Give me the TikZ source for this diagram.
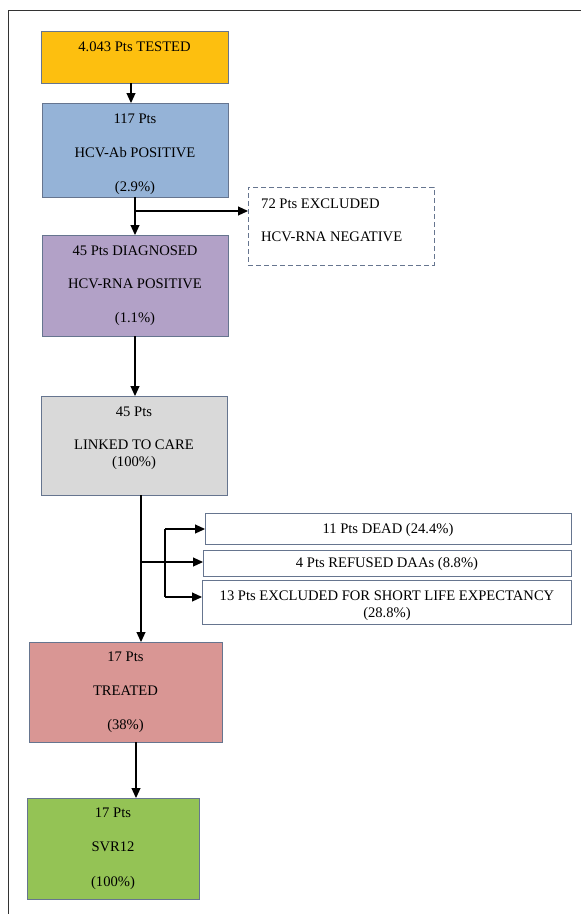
\documentclass[tikz,border=0pt]{standalone}
\usepackage{fontspec}
\setmainfont{Liberation Serif}
\usetikzlibrary{arrows.meta,fit}
\definecolor{cOrange}{HTML}{FDBF0F}
\definecolor{cBlue}{HTML}{95B3D7}
\definecolor{cPurple}{HTML}{B2A1C7}
\definecolor{cGray}{HTML}{D9D9D9}
\definecolor{cRed}{HTML}{D99694}
\definecolor{cGreen}{HTML}{94C355}
\definecolor{cEdge}{HTML}{66758F}
\definecolor{cFrame}{HTML}{333333}
\begin{document}
\begin{tikzpicture}[x=1pt,y=-1pt,
  box/.style={draw=cEdge, line width=0.9pt, rectangle, inner sep=0pt, outer sep=0pt},
  dbox/.style={box, dash pattern=on 5pt off 3pt},
  txt/.style={font=\fontsize{14.6}{17.5}\selectfont, align=center, inner sep=0pt, text=black},
  arr/.style={draw=black, line width=1.1pt, -{Triangle[length=10pt,width=9pt]}},
  ln/.style={draw=black, line width=1.1pt},
]
\useasboundingbox (0,0) rectangle (581,914);
\draw[cFrame, line width=1.5pt] (8.5,914) -- (8.5,10.5) -- (581,10.5);

% boxes
\node[box, fill=cOrange, fit={(41,31) (228,83)}] (tested) {};
\node[box, fill=cBlue, fit={(42,103) (228,197)}] (hcvab) {};
\node[dbox, fill=white, fit={(248,187) (434,265)}] (neg) {};
\node[box, fill=cPurple, fit={(42,235) (228,336)}] (diag) {};
\node[box, fill=cGray, fit={(41,396) (227,495)}] (linked) {};
\node[box, fill=white, fit={(205,513) (571,544)}] (dead) {};
\node[box, fill=white, fit={(203,550) (571,576)}] (ref) {};
\node[box, fill=white, fit={(202,580) (571,624)}] (short) {};
\node[box, fill=cRed, fit={(29,642) (222,742)}] (treat) {};
\node[box, fill=cGreen, fit={(27,798) (199,899)}] (svr) {};

% texts
\node[txt] (tested-t) at (134.5,47) {4.043 Pts TESTED};
\node[txt] (hcvab-t) at (135,154) {117 Pts\\[16.5pt]HCV-Ab POSITIVE\\[16.5pt](2.9\%)};
\node[txt] (diag-t) at (135,285.5) {45 Pts DIAGNOSED\\[16pt]HCV-RNA POSITIVE\\[16pt](1.1\%)};
\node[txt] (linked-t) at (134,438) {45 Pts\\[15.5pt]LINKED TO CARE\\(100\%)};
\node[txt, align=left, anchor=west] (neg-t) at (261,220.5) {72 Pts EXCLUDED\\[15.5pt]HCV-RNA NEGATIVE};
\node[txt] (dead-t) at (388,530) {11 Pts DEAD (24.4\%)};
\node[txt] (ref-t) at (387,564) {4 Pts REFUSED DAAs (8.8\%)};
\node[txt] (short-t) at (387,605.5) {13 Pts EXCLUDED FOR SHORT LIFE EXPECTANCY\\(28.8\%)};
\node[txt] (treat-t) at (125.5,692) {17 Pts\\[16.5pt]TREATED\\[16.5pt](38\%)};
\node[txt] (svr-t) at (113,848.5) {17 Pts\\[17pt]SVR12\\[17pt](100\%)};

% connector helpers
\coordinate (xA) at (131,0);
\coordinate (xB) at (135,0);
\coordinate (xC) at (141,0);
\coordinate (xD) at (136,0);
\coordinate (j1) at (135,211);
\coordinate (j2) at (141,562);
\coordinate (j3) at (165,562);
\coordinate (j4) at (165,529);
\coordinate (j5) at (165,597);

\draw[arr] (tested.south -| xA) -- (hcvab.north -| xA);
\draw[arr] (hcvab.south -| xB) -- (diag.north -| xB);
\draw[arr] (j1) -- (neg.west |- j1);
\draw[arr] (diag.south -| xB) -- (linked.north -| xB);
\draw[arr] (linked.south -| xC) -- (treat.north -| xC);
\draw[ln] (j2) -- (j3);
\draw[ln] (j4) -- (j5);
\draw[arr] (j4) -- (dead.west |- j4);
\draw[arr] (j3) -- (ref.west |- j3);
\draw[arr] (j5) -- (short.west |- j5);
\draw[arr] (treat.south -| xD) -- (svr.north -| xD);
\end{tikzpicture}
\end{document}
